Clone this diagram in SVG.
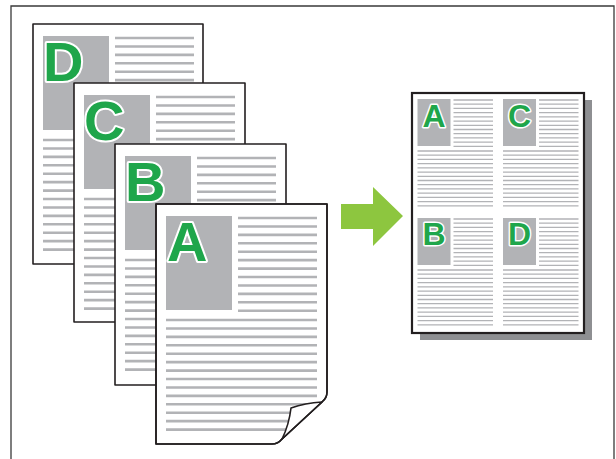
<svg xmlns="http://www.w3.org/2000/svg" width="616" height="459" viewBox="0 0 616 459">
<style>
.page{fill:#fff;stroke:#231f20;stroke-width:1.6;stroke-linejoin:round}
.outline{fill:none;stroke:#231f20;stroke-width:1.6;stroke-linejoin:round}
.blk{fill:#b2b3b6}
.ln{fill:none;stroke:#b2b3b6;stroke-width:2.6}
.big{font-family:"Liberation Sans",Arial,sans-serif;font-weight:bold;font-size:56px;fill:#1fa64b;stroke:#fff;stroke-width:4;paint-order:stroke;stroke-linejoin:round}
.small{font-family:"Liberation Sans",Arial,sans-serif;font-weight:bold;font-size:32px;fill:#1fa64b;stroke:#fff;stroke-width:3;paint-order:stroke;stroke-linejoin:round;text-anchor:middle}
</style>
<defs>
<g id="content">
<rect class="blk" x="10" y="12" width="66" height="94"/>
<path class="ln" d="M82 14H161M82 22.43H161M82 30.86H161M82 39.29H161M82 47.72H161M82 56.15H161M82 64.58H161M82 73.01H161M82 81.44H161M82 89.87H161M82 98.3H161M82 106.73H161M10 116H161M10 124.43H161M10 132.86H161M10 141.29H161M10 149.72H161M10 158.15H161M10 166.58H161M10 175.01H161M10 183.44H161M10 191.87H161M10 200.3H161M10 208.73H161M10 217.16H161M10 225.59H161"/>
</g>
<clipPath id="clipA">
<path d="M156 204H327V392Q327 398 322 402L282 439Q278 444 272 444H156Z"/>
</clipPath>
</defs>

<path id="frame" d="M11 470V6H614V470" fill="none" stroke="#3a3a3a" stroke-width="1.3"/>

<g id="page-D">
<rect class="page" x="33" y="24" width="170" height="240"/>
<use href="#content" transform="translate(33 24)"/>
<text class="big" x="43" y="80.5">D</text>
</g>

<g id="page-C">
<rect class="page" x="74" y="83" width="171" height="239"/>
<use href="#content" transform="translate(74 83)"/>
<text class="big" x="84" y="139.5">C</text>
</g>

<g id="page-B">
<rect class="page" x="115" y="144" width="171" height="241"/>
<use href="#content" transform="translate(115 144)"/>
<text class="big" x="125" y="200.5">B</text>
</g>

<g id="page-A">
<path class="page" d="M156 204H327V392Q327 398 322 402L282 439Q278 444 272 444H156Z"/>
<g clip-path="url(#clipA)">
<use href="#content" transform="translate(156 204)"/>
</g>
<text class="big" x="167" y="260.5">A</text>
<path class="page" d="M322 402Q305 403 291 408Q289 425 282 439Z"/>
<path class="outline" d="M156 204H327V392Q327 398 322 402L282 439Q278 444 272 444H156Z"/>
</g>

<g id="connectors">
<path id="arrow" d="M341 204H373V187L403 216L373 246V229H341Z" fill="#8dc63f"/>
</g>

<g id="result">
<rect x="420" y="100" width="172" height="240" fill="#8e8f92"/>
<rect x="412" y="93" width="172" height="240" fill="#fff" stroke="#231f20" stroke-width="2.2"/>
<use href="#content" transform="translate(412.5 93) scale(0.5)"/>
<use href="#content" transform="translate(498 93) scale(0.5)"/>
<use href="#content" transform="translate(412.5 212) scale(0.5)"/>
<use href="#content" transform="translate(498 212) scale(0.5)"/>
<text class="small" x="434" y="126.5">A</text>
<text class="small" x="519.5" y="126.5">C</text>
<text class="small" x="434" y="245">B</text>
<text class="small" x="519.5" y="245">D</text>
</g>
</svg>
